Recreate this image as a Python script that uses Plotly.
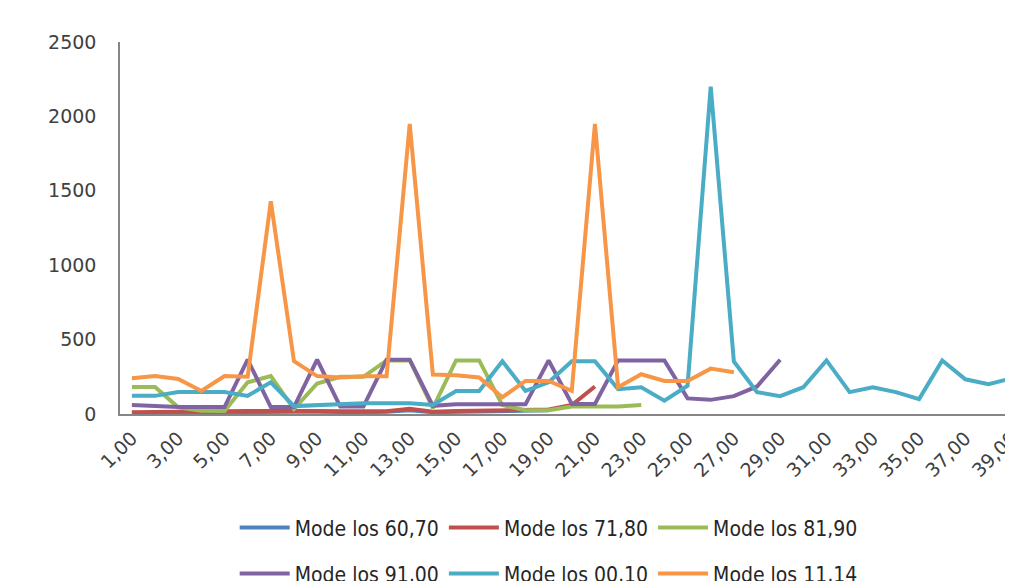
import plotly.graph_objects as go

categories = [f"{i},00" for i in range(1, 40)]

modelos_60_70 = [5, 5, 8, 10, 12, 15, 15, 15, 15, 12, 12, 15, 25, 12, 15, 18, 20, 20, 25]
modelos_71_80 = [12, 12, 14, 15, 18, 20, 22, 22, 20, 18, 15, 18, 35, 15, 20, 22, 25, 25, 30, 60, 185]
modelos_81_90 = [182, 182, 45, 22, 20, 213, 255, 33, 205, 250, 250, 360, 360, 40, 360, 360, 60,
                 25, 25, 50, 50, 50, 60]
modelos_91_00 = [60, 53, 47, 47, 47, 365, 47, 47, 365, 50, 50, 365, 365, 55, 65, 65, 65, 65, 360,
                 67, 67, 360, 360, 360, 105, 95, 120, 185, 365]
modelos_00_10 = [122, 122, 148, 150, 148, 122, 213, 53, 60, 67, 73, 73, 73, 60, 155, 155, 355, 155,
                 213, 355, 355, 167, 180, 90, 190, 2200, 353, 147, 120, 180, 360, 147, 180, 147,
                 100, 360, 233, 200, 240]
modelos_11_14 = [240, 255, 235, 155, 255, 250, 1430, 355, 255, 245, 253, 253, 1950, 265, 260, 245,
                 113, 222, 222, 155, 1950, 180, 267, 222, 222, 305, 280]

series = [
    ("Mode los 60,70", modelos_60_70, "#4F81BD", "legend"),
    ("Mode los 71,80", modelos_71_80, "#C0504D", "legend"),
    ("Mode los 81,90", modelos_81_90, "#9BBB59", "legend"),
    ("Mode los 91,00", modelos_91_00, "#8064A2", "legend2"),
    ("Mode los 00,10", modelos_00_10, "#4BACC6", "legend2"),
    ("Mode los 11,14", modelos_11_14, "#F79646", "legend2"),
]

fig = go.Figure()
for name, vals, color, leg in series:
    fig.add_trace(go.Scatter(
        x=categories[:len(vals)], y=vals, mode="lines", name=name,
        line=dict(color=color, width=4), legend=leg,
    ))

tick_font = dict(family="DejaVu Sans, sans-serif", size=19, color="#404040")
leg_font = dict(family="DejaVu Sans Condensed, Liberation Sans Narrow, sans-serif",
                size=21, color="#262626")

fig.update_layout(
    width=1013, height=600,
    margin=dict(l=112, r=0, t=33.5, b=194),
    paper_bgcolor="white", plot_bgcolor="white",
    showlegend=True,
    legend=dict(orientation="h", x=0.4795, xanchor="center", y=-0.306, yanchor="middle",
                font=leg_font, itemwidth=50, bgcolor="rgba(0,0,0,0)"),
    legend2=dict(orientation="h", x=0.4795, xanchor="center", y=-0.4295, yanchor="middle",
                 font=leg_font, itemwidth=50, bgcolor="rgba(0,0,0,0)"),
    xaxis=dict(
        type="category", categoryorder="array", categoryarray=categories,
        range=[-0.514, 38.1], tickmode="array", tickvals=categories[::2],
        tickangle=-45, tickfont=tick_font, showgrid=False, zeroline=False,
        showline=True, linecolor="#868686", linewidth=1.5,
        ticks="outside", ticklen=4, tickcolor="rgba(0,0,0,0)",
    ),
    yaxis=dict(
        range=[0, 2500], tickvals=[0, 500, 1000, 1500, 2000, 2500],
        tickfont=tick_font, showgrid=False, zeroline=False,
        showline=True, linecolor="#868686", linewidth=1.5,
        ticks="outside", ticklen=18, tickcolor="rgba(0,0,0,0)",
    ),
)

fig.write_html("out.html")
